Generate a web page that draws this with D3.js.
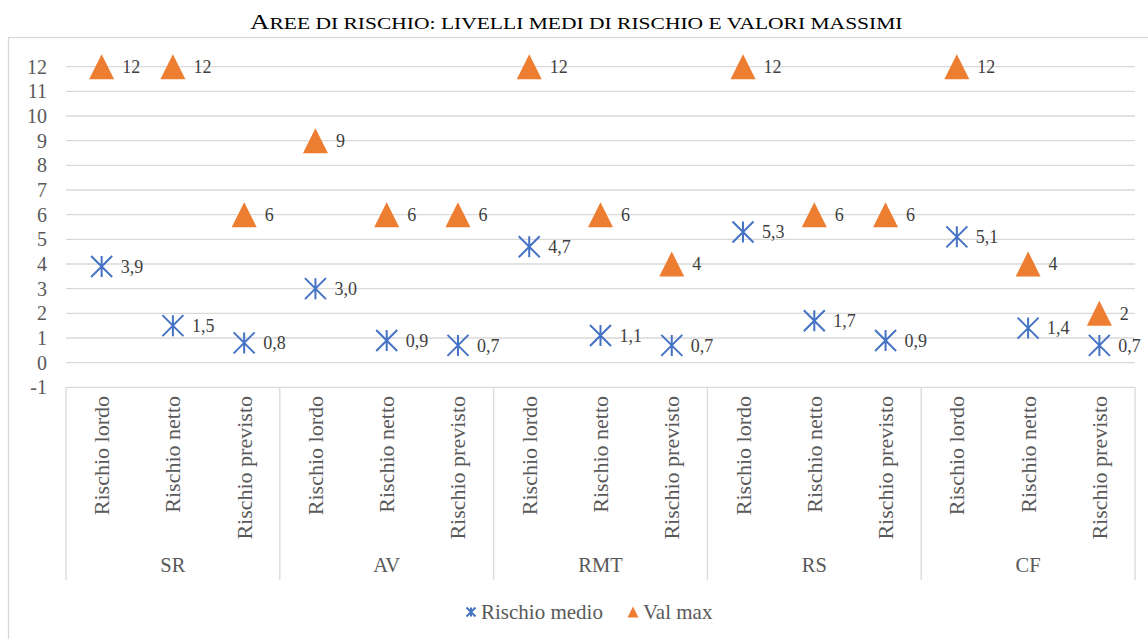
<!DOCTYPE html>
<html>
<head>
<meta charset="utf-8">
<script src="https://cdn.jsdelivr.net/npm/d3@7"></script>
<style>
  body { margin: 0; background: #fff; }
  text { font-family: "Liberation Serif", "Times New Roman", serif; }
</style>
</head>
<body>
<script>
var groups = ['SR', 'AV', 'RMT', 'RS', 'CF'];
var subCats = ['Rischio lordo', 'Rischio netto', 'Rischio previsto'];
var rischioMedio = [3.9, 1.5, 0.8, 3.0, 0.9, 0.7, 4.7, 1.1, 0.7, 5.3, 1.7, 0.9, 5.1, 1.4, 0.7];
var valMax = [12, 12, 6, 9, 6, 6, 12, 6, 4, 12, 6, 6, 12, 4, 2];
var yTicks = [-1, 0, 1, 2, 3, 4, 5, 6, 7, 8, 9, 10, 11, 12];
var title = 'Aree di rischio: livelli medi di rischio e valori massimi';

var width = 1148;
var height = 639;

var svg = d3.select('body')
  .append('svg')
  .attr('width', width)
  .attr('height', height);

// outer chart border
svg.append('rect')
  .attr('x', 8.5).attr('y', 37.5)
  .attr('width', 1150).attr('height', 620)
  .attr('fill', 'none')
  .attr('stroke', '#d9d9d9')
  .attr('stroke-width', 1.3);

// title in small caps: capitals big, lowercase as smaller capitals
var tg = svg.append('g');
var tt = tg.append('text')
  .attr('y', 29)
  .attr('fill', '#000')
  .attr('font-family', 'Liberation Serif');
var runs = title.match(/[A-Z]+|[^A-Z]+/g);
runs.forEach(function (r) {
  var upper = /[A-Z]/.test(r[0]);
  tt.append('tspan')
    .style('font-size', upper ? '21px' : '16.8px')
    .text(r.toUpperCase());
});
var tw = tt.node().getComputedTextLength();
var targetW = 652;
tg.attr('transform', 'translate(' + (250) + ',0) scale(' + (targetW / tw) + ',1)');

// one key per category
var keys = [];
groups.forEach(function (g) {
  subCats.forEach(function (s) { keys.push(g + '|' + s); });
});

var x = d3.scaleBand()
  .domain(keys)
  .range([66, 1135]);

var y = d3.scaleLinear()
  .domain([-1, 12])
  .range([387.3, 66.7]);

// gridlines
svg.append('g')
  .selectAll('line')
  .data(yTicks.filter(function (d) { return d > -1; }))
  .enter()
  .append('line')
  .attr('x1', 66).attr('x2', 1135)
  .attr('y1', function (d) { return y(d); })
  .attr('y2', function (d) { return y(d); })
  .attr('stroke', '#d9d9d9')
  .attr('stroke-width', 1.3);

// y axis labels
svg.append('g')
  .selectAll('text')
  .data(yTicks)
  .enter()
  .append('text')
  .attr('x', 47)
  .attr('y', function (d) { return y(d); })
  .attr('dy', '0.35em')
  .attr('text-anchor', 'end')
  .attr('fill', '#595959')
  .style('font-size', '20px')
  .text(function (d) { return d; });

// category axis box
var axisG = svg.append('g');
axisG.append('line')
  .attr('x1', 66).attr('x2', 1135)
  .attr('y1', y(-1)).attr('y2', y(-1))
  .attr('stroke', '#d9d9d9').attr('stroke-width', 1.3);

var bounds = d3.range(groups.length + 1).map(function (i) {
  return i < groups.length ? x(keys[i * 3]) : x.range()[1];
});
axisG.selectAll('line.sep')
  .data(bounds)
  .enter()
  .append('line')
  .attr('class', 'sep')
  .attr('x1', function (d) { return d; })
  .attr('x2', function (d) { return d; })
  .attr('y1', y(-1)).attr('y2', 580)
  .attr('stroke', '#d9d9d9').attr('stroke-width', 1.3);

axisG.selectAll('text.cat')
  .data(keys)
  .enter()
  .append('text')
  .attr('class', 'cat')
  .attr('transform', function (d) {
    return 'translate(' + (x(d) + x.bandwidth() / 2 + 7.5) + ',396) rotate(-90)';
  })
  .attr('text-anchor', 'end')
  .attr('fill', '#595959')
  .style('font-size', '22px')
  .text(function (d) { return d.split('|')[1]; });

axisG.selectAll('text.grp')
  .data(groups)
  .enter()
  .append('text')
  .attr('class', 'grp')
  .attr('x', function (d, i) { return (bounds[i] + bounds[i + 1]) / 2; })
  .attr('y', 572)
  .attr('text-anchor', 'middle')
  .attr('fill', '#595959')
  .style('font-size', '20.5px')
  .text(function (d) { return d; });

var fmt = function (v) { return v.toFixed(1).replace('.', ','); };
var cx = function (i) { return x(keys[i]) + x.bandwidth() / 2; };

function asterisk(sel, r) {
  sel.append('path')
    .attr('d', 'M0,' + (-r) + 'V' + r +
      'M' + (-r) + ',' + (-r) + 'L' + r + ',' + r +
      'M' + (-r) + ',' + r + 'L' + r + ',' + (-r))
    .attr('fill', 'none')
    .attr('stroke', '#4472c4')
    .attr('stroke-width', 2);
}
function triangle(sel, s) {
  sel.append('path')
    .attr('d', 'M0,' + (-s / 2) + 'L' + (s / 2) + ',' + (s / 2) + 'L' + (-s / 2) + ',' + (s / 2) + 'Z')
    .attr('fill', '#ed7d31');
}

// Val max
var vm = svg.append('g').selectAll('g')
  .data(valMax)
  .enter()
  .append('g')
  .attr('transform', function (d, i) { return 'translate(' + cx(i) + ',' + y(d) + ')'; });
vm.each(function () { triangle(d3.select(this), 25); });
vm.append('text')
  .attr('x', 20.5)
  .attr('dy', '0.35em')
  .attr('fill', '#404040')
  .style('font-size', '18px')
  .text(function (d) { return d; });

// Rischio medio
var rm = svg.append('g').selectAll('g')
  .data(rischioMedio)
  .enter()
  .append('g')
  .attr('transform', function (d, i) { return 'translate(' + cx(i) + ',' + y(d) + ')'; });
rm.each(function () { asterisk(d3.select(this), 10.5); });
rm.append('text')
  .attr('x', 19)
  .attr('dy', '0.35em')
  .attr('fill', '#404040')
  .style('font-size', '18px')
  .text(function (d) { return fmt(d); });

// legend
var leg = svg.append('g');
var l1 = leg.append('g').attr('transform', 'translate(471,612)');
asterisk(l1, 4.5);
l1.append('text').attr('x', 10).attr('dy', '0.35em')
  .attr('fill', '#595959').style('font-size', '21px').text('Rischio medio');
var l2 = leg.append('g').attr('transform', 'translate(633,612)');
triangle(l2, 11);
l2.append('text').attr('x', 10).attr('dy', '0.35em')
  .attr('fill', '#595959').style('font-size', '21px').text('Val max');
</script>
</body>
</html>
